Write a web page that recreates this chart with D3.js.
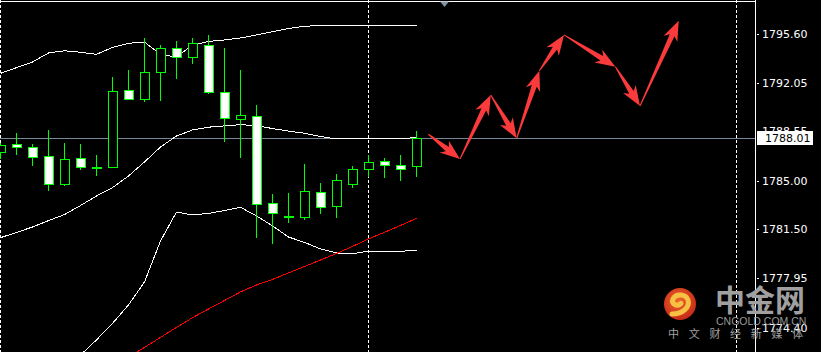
<!DOCTYPE html>
<meta charset="utf-8">
<style>
    body { margin: 0; background: #000; }
    svg { display: block; background: #000; }
    .axis text { font: 11px "DejaVu Sans", sans-serif; fill: #fff; }
    .axis line { stroke: #fff; }
</style>

<svg width="821" height="352"></svg>
<script src="https://d3js.org/d3.v7.min.js"></script>

<script>
    var svg = d3.select("svg"),
        width = +svg.attr("width"),
        height = +svg.attr("height");

    // H1 candles, bar 0 = leftmost (partly hidden)
    var opens  = [1787.02, 1787.58, 1787.36, 1786.71, 1784.73, 1786.57, 1785.97, 1785.96, 1791.47, 1790.86,
                  1792.81, 1794.50, 1793.85, 1794.71, 1791.32, 1789.38, 1789.59, 1783.32, 1782.44, 1782.36,
                  1784.11, 1783.11, 1784.73, 1785.77, 1786.35, 1786.06, 1785.99];
    var highs  = [1787.70, 1788.37, 1787.60, 1788.61, 1787.65, 1787.58, 1786.78, 1792.43, 1792.91, 1795.24,
                  1794.73, 1795.02, 1795.24, 1795.46, 1794.52, 1792.91, 1790.39, 1783.99, 1784.06, 1786.16,
                  1784.79, 1785.43, 1786.01, 1786.80, 1786.59, 1786.80, 1788.53];
    var lows   = [1786.61, 1786.85, 1786.10, 1784.30, 1784.66, 1785.77, 1785.38, 1785.92, 1790.86, 1790.72,
                  1790.79, 1792.38, 1793.46, 1791.25, 1787.83, 1786.68, 1780.91, 1780.48, 1781.99, 1782.17,
                  1782.64, 1782.36, 1784.52, 1785.29, 1785.24, 1785.02, 1785.31];
    var closes = [1787.53, 1787.36, 1786.68, 1784.69, 1786.49, 1785.92, 1785.96, 1791.40, 1790.86, 1792.77,
                  1794.50, 1793.87, 1794.86, 1791.32, 1789.45, 1789.67, 1783.29, 1782.60, 1782.43, 1784.19,
                  1783.08, 1784.98, 1785.77, 1786.28, 1786.06, 1785.77, 1788.01];

    // Bollinger bands
    var bbUpper  = [1792.69, 1793.10, 1793.51, 1794.16, 1794.32, 1794.21, 1794.06, 1794.56, 1794.86, 1794.95,
                    1794.05, 1793.87, 1794.73, 1794.99, 1795.10, 1795.24, 1795.46, 1795.69, 1795.92, 1796.09,
                    1796.13, 1796.13, 1796.13, 1796.13, 1796.13, 1796.13, 1796.13];
    var bbMiddle = [1780.84, 1781.22, 1781.61, 1782.07, 1782.51, 1783.16, 1783.85, 1784.45, 1785.29, 1786.30,
                    1787.38, 1788.17, 1788.61, 1788.81, 1788.90, 1788.99, 1788.92, 1788.71, 1788.53, 1788.37,
                    1788.14, 1787.96, 1787.96, 1787.97, 1787.97, 1787.96, 1788.08];
    var bbLower  = [1768.99, 1769.34, 1769.71, 1769.98, 1770.70, 1772.38, 1773.47, 1774.66, 1775.99, 1777.65,
                    1780.60, 1782.69, 1782.48, 1782.59, 1782.80, 1783.03, 1782.41, 1781.69, 1780.89, 1780.50,
                    1780.03, 1779.74, 1779.67, 1779.88, 1779.81, 1779.85, 1779.95];

    // slow moving average (red), starts at bar 8
    var maStart = 8;
    var maValues = [1772.24, 1772.93, 1773.65, 1774.37, 1775.07, 1775.70, 1776.31, 1776.93, 1777.43, 1777.83,
                    1778.30, 1778.76, 1779.23, 1779.70, 1780.21, 1780.75, 1781.23, 1781.72, 1782.24];

    var yTicks = [1795.60, 1792.05, 1788.55, 1785.00, 1781.50, 1777.95, 1774.40];
    var lastPrice = 1788.01;
    var separators = [0, 23, 46];

    // forecast arrows: waypoints in bar index / price
    var arrowIdx   = [26.74, 28.72, 30.64, 32.26, 33.68, 35.22, 38.43, 39.97, 42.39];
    var arrowPrice = [1788.30, 1786.52, 1791.13, 1788.01, 1792.88, 1795.46, 1793.17, 1790.34, 1796.49];

    var axisX = 755;
    var x = d3.scaleLinear().domain([0, 46]).range([0.5, 736.5]);
    var y = d3.scaleLinear().domain([1774.40, 1795.60]).range([327, 33]);
    var py = function (v) { return Math.round(y(v)) + 0.5; };

    svg.append("defs").append("clipPath").attr("id", "plot")
        .append("rect").attr("x", 0).attr("y", 0).attr("width", axisX).attr("height", height);

    var plot = svg.append("g").attr("clip-path", "url(#plot)");

    // period separators
    plot.selectAll(".sep")
        .data(separators)
        .enter().append("line")
        .attr("x1", function (d) { return x(d); })
        .attr("x2", function (d) { return x(d); })
        .attr("y1", 0).attr("y2", height)
        .attr("stroke", "#fff")
        .attr("stroke-dasharray", "3,2")
        .attr("shape-rendering", "crispEdges");

    // top border
    svg.append("line")
        .attr("x1", 0).attr("x2", axisX).attr("y1", 1.5).attr("y2", 1.5)
        .attr("stroke", "#fff").attr("shape-rendering", "crispEdges");

    // last price line
    plot.append("line")
        .attr("x1", 0).attr("x2", axisX)
        .attr("y1", py(lastPrice)).attr("y2", py(lastPrice))
        .attr("stroke", "#778899").attr("shape-rendering", "crispEdges");

    var line = d3.line()
        .x(function (d) { return x(d.i); })
        .y(function (d) { return y(d.v); });

    function series(arr, start) {
        return arr.map(function (v, j) { return { i: j + (start || 0), v: v }; });
    }

    [bbUpper, bbMiddle, bbLower].forEach(function (arr) {
        plot.append("path")
            .datum(series(arr))
            .attr("d", line)
            .attr("fill", "none")
            .attr("stroke", "#fff")
            .attr("stroke-width", 1)
            .attr("shape-rendering", "crispEdges");
    });

    plot.append("path")
        .datum(series(maValues, maStart))
        .attr("d", line)
        .attr("fill", "none")
        .attr("stroke", "#ff0000")
        .attr("stroke-width", 1)
        .attr("shape-rendering", "crispEdges");

    // candles
    var bars = opens.map(function (o, i) {
        return { i: i, o: o, h: highs[i], l: lows[i], c: closes[i] };
    });

    var candle = plot.selectAll(".candle")
        .data(bars)
        .enter().append("g")
        .attr("class", "candle")
        .attr("shape-rendering", "crispEdges");

    candle.append("line")
        .attr("x1", function (d) { return x(d.i); })
        .attr("x2", function (d) { return x(d.i); })
        .attr("y1", function (d) { return Math.round(y(d.h)); })
        .attr("y2", function (d) { return Math.round(y(d.l)) + 1; })
        .attr("stroke", "#00ff00");

    candle.append("rect")
        .attr("x", function (d) { return x(d.i) - 4; })
        .attr("width", 9)
        .attr("y", function (d) { return py(Math.max(d.o, d.c)); })
        .attr("height", function (d) {
            return Math.max(1, Math.round(y(Math.min(d.o, d.c))) - Math.round(y(Math.max(d.o, d.c))));
        })
        .attr("fill", function (d) { return d.c >= d.o ? "#000" : "#fff"; })
        .attr("stroke", "#00ff00");

    // shift marker
    svg.append("path")
        .attr("d", d3.line()([[440, 1.5], [449, 1.5], [444.5, 7]]) + "Z")
        .attr("fill", "#8593a3");

    // forecast arrows
    function arrowShape(p0, p1) {
        var dx = p1[0] - p0[0], dy = p1[1] - p0[1];
        var L = Math.hypot(dx, dy), ux = dx / L, uy = dy / L, nx = -uy, ny = ux;
        var hl = 16, hw = 7.5, sw = 2.6, back = 4;
        var bx = p1[0] - ux * hl, by = p1[1] - uy * hl;
        return [
            [p0[0] + nx * 0.5, p0[1] + ny * 0.5],
            [bx + nx * sw, by + ny * sw],
            [bx - ux * back + nx * hw, by - uy * back + ny * hw],
            p1,
            [bx - ux * back - nx * hw, by - uy * back - ny * hw],
            [bx - nx * sw, by - ny * sw],
            [p0[0] - nx * 0.5, p0[1] - ny * 0.5]
        ];
    }

    var waypoints = arrowIdx.map(function (k, j) { return [x(k), y(arrowPrice[j])]; });
    var arrows = d3.pairs(waypoints);

    svg.selectAll(".arrow")
        .data(arrows)
        .enter().append("path")
        .attr("class", "arrow")
        .attr("d", function (d) { return d3.line()(arrowShape(d[0], d[1])) + "Z"; })
        .attr("fill", "#fb3b3b");

    // price axis
    svg.append("line")
        .attr("x1", axisX + 0.5).attr("x2", axisX + 0.5)
        .attr("y1", 0).attr("y2", height)
        .attr("stroke", "#fff").attr("shape-rendering", "crispEdges");

    svg.append("g")
        .attr("class", "axis")
        .attr("transform", "translate(" + axisX + ",0.5)")
        .call(d3.axisRight(y).tickValues(yTicks).tickFormat(d3.format(".2f")).tickSize(4).tickPadding(3))
        .call(function (g) { g.select(".domain").remove(); })
        .call(function (g) {
            g.selectAll(".tick line").attr("x1", 2).attr("x2", 4).attr("shape-rendering", "crispEdges");
        });

    // last price label
    var lp = svg.append("g").attr("transform", "translate(0," + py(lastPrice) + ")");
    lp.append("rect")
        .attr("x", 757).attr("y", -7.5).attr("width", 56).attr("height", 14)
        .attr("fill", "#fff");
    lp.append("text")
        .attr("x", 765).attr("y", 0).attr("dy", "0.35em")
        .style("font", "11px 'DejaVu Sans', sans-serif")
        .attr("fill", "#000")
        .text(d3.format(".2f")(lastPrice));

    // watermark
    var defs = svg.select("defs");
    var rg = defs.append("radialGradient").attr("id", "logoRed").attr("cx", "45%").attr("cy", "40%").attr("r", "60%");
    rg.append("stop").attr("offset", "0%").attr("stop-color", "#f0662a");
    rg.append("stop").attr("offset", "100%").attr("stop-color", "#c52a18");

    var logo = svg.append("g").attr("transform", "translate(680,304)");
    logo.append("circle").attr("r", 16).attr("fill", "url(#logoRed)");
    logo.append("path")
        .attr("d", "M-8,10 C3,10 10,3 8,-4 C6,-10 -4,-11 -7,-5 C-9,0 -3,3 1,-0.5")
        .attr("fill", "none")
        .attr("stroke", "#f6c244")
        .attr("stroke-width", 5)
        .attr("stroke-linecap", "round");

    svg.append("text")
        .attr("x", 715).attr("y", 311)
        .style("font", "bold 30px 'Noto Sans CJK SC', sans-serif")
        .attr("fill", "#a0a0a0")
        .text("中金网");
    svg.append("text")
        .attr("x", 716).attr("y", 324.5)
        .style("font", "10.5px 'Liberation Sans', sans-serif")
        .attr("fill", "#999")
        .text("CNGOLD.COM.CN");
    svg.append("text")
        .attr("x", 668).attr("y", 338)
        .style("font", "11px 'Noto Sans CJK SC', sans-serif")
        .style("letter-spacing", "9.7px")
        .attr("fill", "#a0a0a0")
        .text("中文财经新媒体");
</script>
